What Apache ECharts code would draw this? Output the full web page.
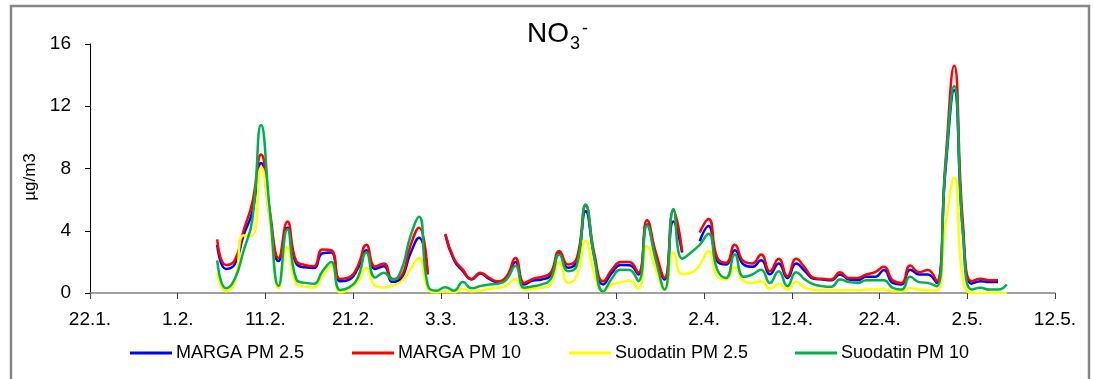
<!DOCTYPE html>
<html>
<head>
<meta charset="utf-8">
<script src="https://cdn.jsdelivr.net/npm/echarts@6/dist/echarts.min.js"></script>
<style>
html,body{margin:0;padding:0;background:#fff;}
#chart{width:1094px;height:379px;}
</style>
</head>
<body>
<div id="chart"></div>
<script>
// Axis start date (day 0) and first data day
var axisStart = '2009-01-22';
var firstDataDay = '2009-02-05';
var xTickDays = [0,10,20,30,40,50,60,70,80,90,100,110];

var seriesNames = ['MARGA PM 2.5', 'MARGA PM 10', 'Suodatin PM 2.5', 'Suodatin PM 10'];

// daily values (µg/m3), starting at firstDataDay
var margaPM25 = [3.1,1.55,1.85,3.7,5.2,8.35,4.9,2.05,4.2,1.9,1.65,1.6,2.55,2.6,0.75,0.85,1.55,2.75,1.55,1.72,0.72,0.95,2.5,3.55,1.2,
  null,3.75,2.1,1.4,0.87,1.25,0.9,0.7,0.97,2.0,0.55,0.8,0.87,1.12,2.55,1.62,2.05,5.26,2.3,0.55,1.3,1.8,1.78,1.19,4.4,2.4,0.87,4.6,2.6,
  null,3.33,4.3,2.05,1.83,2.75,1.83,1.68,2.1,1.2,1.9,0.97,1.9,1.4,0.91,0.87,0.82,1.19,0.87,0.82,1.04,1.04,1.47,0.65,0.55,1.5,1.19,1.19,0.65,
  7.8,13.05,4.0,0.6,0.76,0.7,0.7,null];
var margaPM10 = [3.45,1.8,2.1,4.0,5.8,8.9,5.2,2.25,4.6,2.05,1.8,1.72,2.8,2.75,0.9,1.0,1.7,3.1,1.7,1.9,0.9,1.1,3.0,4.2,1.2,
  null,3.8,2.2,1.5,0.9,1.3,0.97,0.76,1.08,2.25,0.65,0.91,1.04,1.3,2.7,1.83,2.26,5.6,2.5,0.75,1.5,2.0,2.0,1.3,4.68,2.6,0.97,5.3,2.69,
  null,3.88,4.76,2.26,1.94,3.1,2.04,1.9,2.47,1.4,2.2,1.08,2.2,1.62,0.97,0.91,0.87,1.34,0.97,0.97,1.19,1.34,1.68,0.82,0.65,1.76,1.34,1.47,0.76,
  8.3,14.6,4.5,0.76,0.91,0.82,0.82,null];
var suodatinPM25 = [1.3,0.12,0.7,3.7,3.7,8.1,4.6,0.3,2.95,0.6,0.4,0.35,1.1,1.75,0.05,0.25,0.7,1.6,0.45,0.35,0.5,0.75,1.5,2.25,0.3,
  0.05,0.1,0.05,0.25,0.12,0.15,0.27,0.33,0.48,0.9,0.22,0.27,0.33,0.55,1.98,0.65,1.12,3.35,1.2,0.1,0.55,0.68,0.8,0.27,3.0,1.5,0.22,2.6,1.2,
  1.3,1.8,2.7,1.08,0.87,1.66,0.76,0.65,0.76,0.27,0.59,0.22,0.7,0.33,0.22,0.18,0.18,0.16,0.18,0.18,0.22,0.22,0.22,0.12,0.12,0.31,0.22,0.18,0.16,
  4.3,7.4,0.8,0.0,0.0,0.0,0.0,0.0];
var suodatinPM10 = [2.1,0.3,0.9,2.7,4.7,10.8,5.3,0.45,4.1,0.9,0.65,0.6,1.4,2.0,0.2,0.35,0.95,2.6,1.0,1.3,0.85,1.5,3.6,4.9,0.5,
  0.15,0.37,0.15,0.7,0.3,0.45,0.55,0.6,0.87,1.75,0.33,0.44,0.55,0.87,2.47,1.4,1.77,5.69,2.2,0.1,0.95,1.5,1.48,0.76,4.33,2.1,0.22,5.4,2.2,
  2.6,3.1,3.8,1.5,0.97,2.47,1.04,1.19,1.5,0.65,1.4,0.44,1.34,0.87,0.55,0.44,0.4,0.87,0.7,0.65,0.82,0.82,0.82,0.33,0.22,1.04,0.7,0.65,0.44,
  8.0,13.3,3.8,0.22,0.33,0.22,0.22,0.55];

var colors = ['#0000FF', '#FF0000', '#FFFF00', '#00B050'];

var DAY = 86400000;
var t0 = Date.parse(axisStart + 'T00:00:00Z');
var tFirst = Date.parse(firstDataDay + 'T00:00:00Z');
var offset = Math.round((tFirst - t0) / DAY);

function toPairs(arr) {
  return arr.map(function (v, i) { return [offset + i + 0.5, v]; });
}
function dayLabel(d) {
  var dt = new Date(t0 + d * DAY);
  return dt.getUTCDate() + '.' + (dt.getUTCMonth() + 1) + '.';
}

var allData = [margaPM25, margaPM10, suodatinPM25, suodatinPM10];
var chart = echarts.init(document.getElementById('chart'), null, {renderer: 'canvas'});
var font = 'Liberation Sans, Arial, sans-serif';
var legendLefts = [130, 352, 569, 795];

chart.setOption({
  animation: false,
  backgroundColor: '#fff',
  textStyle: {fontFamily: font},
  grid: {left: 90, right: 39, top: 44, bottom: 86},
  xAxis: {
    type: 'value',
    min: xTickDays[0],
    max: xTickDays[xTickDays.length - 1],
    interval: 10,
    axisLine: {show: true, lineStyle: {color: '#808080', width: 1.5}},
    axisTick: {show: true, length: 6, lineStyle: {color: '#404040'}},
    axisLabel: {color: '#000', fontSize: 19, fontFamily: font, margin: 17, formatter: function (v) { return dayLabel(v); }},
    splitLine: {show: false}
  },
  yAxis: {
    type: 'value',
    min: 0, max: 16, interval: 4,
    axisLine: {show: true, lineStyle: {color: '#000', width: 1}},
    axisTick: {show: true, length: 5, lineStyle: {color: '#000'}},
    axisLabel: {color: '#000', fontSize: 19, fontFamily: font, margin: 19},
    splitLine: {show: false}
  },
  legend: seriesNames.map(function (name, i) {
    return {
      left: legendLefts[i], top: 344, padding: 0,
      icon: 'rect', itemWidth: 42, itemHeight: 3, itemGap: 0,
      textStyle: {color: '#000', fontSize: 18, fontFamily: font, padding: [0, 0, 0, -1]},
      data: [name]
    };
  }),
  graphic: [
    {type: 'rect', shape: {x: 11, y: 6, width: 1078, height: 390}, style: {fill: 'none', stroke: '#868686', lineWidth: 2.5}, silent: true},
    {type: 'text', x: 527, y: 48, style: {text: 'NO', font: '28px ' + font, fill: '#000', textVerticalAlign: 'bottom'}},
    {type: 'text', x: 570, y: 53, style: {text: '3', font: '18px ' + font, fill: '#000', textVerticalAlign: 'bottom'}},
    {type: 'text', x: 582, y: 38, style: {text: '-', font: '18px ' + font, fill: '#000', textVerticalAlign: 'bottom'}},
    {type: 'text', x: 30, y: 177, rotation: Math.PI / 2, style: {text: 'µg/m3', font: '17px ' + font, fill: '#000', textAlign: 'center', textVerticalAlign: 'middle'}}
  ],
  series: seriesNames.map(function (name, i) {
    return {
      name: name,
      type: 'line',
      data: toPairs(allData[i]),
      smooth: 0.5,
      showSymbol: false,
      connectNulls: false,
      color: colors[i],
      lineStyle: {color: colors[i], width: 2.5},
      z: 2 + i
    };
  })
});
</script>
</body>
</html>
